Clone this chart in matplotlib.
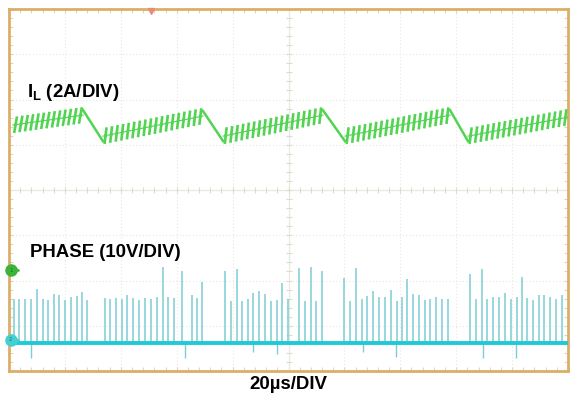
import numpy as np
import matplotlib
matplotlib.use('Agg')
import matplotlib.pyplot as plt
from matplotlib import patheffects

# screen: 10 x 8 divisions, 20 us/div
time_per_div = 20.0
il_scale = 2.0        # A/div
phase_scale = 10.0    # V/div
il_offset = -1.77     # ch1 ground, div
phase_offset = -3.38  # ch2 ground, div

# inductor current, rising ramps (start/end time in us, current in A)
il_rise_t0 = [1.4, 33.6, 76.6, 120.2, 164.2]
il_rise_t1 = [26.5, 69.4, 112.3, 157.8, 200.0]
il_rise_a0 = [6.41, 5.92, 5.92, 5.92, 5.92]
il_rise_a1 = [6.85, 6.81, 6.85, 6.85, 6.76]
il_ripple = 0.22      # half of ripple, A

# phase node pulses (time in us, peak in V)
pulse_t = [1.8, 3.7, 5.7, 7.8, 9.9, 12.1, 14.1, 16.1, 18.0, 20.0, 22.1, 24.2, 26.2, 28.0,
           34.3, 36.1, 38.3, 40.3, 42.3, 44.5, 46.6, 48.7, 50.7, 52.8, 55.0, 57.0, 59.0,
           61.8, 65.4, 67.3, 69.1,
           77.3, 79.3, 81.5, 83.5, 85.4, 87.4, 89.5, 91.6, 93.6, 95.8, 97.8, 99.7,
           103.9, 105.9, 107.9, 109.8, 112.0,
           119.9, 122.0, 124.2, 126.2, 128.2, 130.1, 132.5, 134.5, 136.6, 138.7, 140.5,
           142.5, 144.7, 146.7, 148.8, 150.6, 152.8, 154.8, 157.0,
           164.9, 167.1, 169.1, 171.1, 173.3, 175.3, 177.5, 179.5, 181.6, 183.7, 185.5,
           187.4, 189.6, 191.5, 193.6, 195.6, 197.8]
pulse_v = [9.8, 9.8, 9.8, 9.8, 12.0, 9.8, 9.4, 10.9, 10.7, 9.4, 10.2, 10.4, 11.3, 9.4,
           9.9, 9.8, 9.9, 9.8, 10.7, 9.9, 9.4, 9.9, 9.7, 10.2, 16.8, 10.2, 9.9,
           15.8, 10.5, 9.9, 13.5,
           15.8, 9.2, 16.4, 9.2, 9.8, 11.1, 11.4, 10.9, 9.2, 9.4, 13.3, 9.8,
           16.6, 9.2, 16.8, 9.2, 15.8,
           14.4, 9.2, 16.6, 9.8, 10.4, 11.4, 10.2, 10.2, 11.6, 9.2, 10.2,
           14.1, 10.8, 10.5, 9.4, 9.7, 10.2, 9.7, 9.7,
           15.3, 9.8, 16.3, 9.8, 10.2, 10.2, 11.0, 9.8, 10.2, 14.6, 9.9,
           9.4, 10.7, 10.7, 10.2, 9.8, 10.7]
spike_t = [7.8, 63.0, 87.3, 95.8, 126.7, 138.5, 169.5, 181.4]
spike_v = [-3.3, -3.3, -2.0, -2.5, -2.0, -3.0, -3.3, -3.3]
phase_start = 1.8
trigger_t = 50.7

fig = plt.figure(figsize=(5.72, 3.96), dpi=100)
ax = fig.add_axes([9 / 572, 25 / 396, 559 / 572, 362 / 396])
ax.set_xlim(0, 10 * time_per_div)
ax.set_ylim(-4, 4)

grid_c = '#e8e8e0'
ax.set_xticks(np.arange(0, 201, time_per_div))
ax.set_yticks(np.arange(-4, 5, 1))
ax.set_xticks(np.arange(0, 201, time_per_div / 5), minor=True)
ax.set_yticks(np.arange(-4, 4.01, 0.2), minor=True)
ax.tick_params(which='both', direction='in', top=True, right=True,
               labelbottom=False, labelleft=False, color='#ddd6c0',
               length=3, width=0.8)
ax.grid(which='major', color=grid_c, ls=(0, (1, 2)), lw=0.8)
for s in ax.spines.values():
    s.set_color('#dcae68')
    s.set_linewidth(2)

# center axes with small ticks
ax.axhline(0, color=grid_c, lw=0.8)
ax.axvline(100, color=grid_c, lw=0.8)
minor_x = np.arange(0, 201, time_per_div / 5)
minor_y = np.arange(-4, 4.01, 0.2)
ax.plot(minor_x, np.zeros_like(minor_x), '|', color='#dcdccc', ms=5, mew=0.8)
ax.plot(np.full_like(minor_y, 100), minor_y, '_', color='#dcdccc', ms=5, mew=0.8)

# inductor current
green = '#52d452'
ticked = [patheffects.Stroke(linewidth=0.8),
          patheffects.TickedStroke(spacing=3.9, angle=72, length=1.3, linewidth=1.9),
          patheffects.TickedStroke(spacing=3.9, angle=-108, length=1.3, linewidth=1.9)]
for i in range(len(il_rise_t0)):
    t = [il_rise_t0[i], il_rise_t1[i]]
    a = np.array([il_rise_a0[i], il_rise_a1[i]]) / il_scale + il_offset
    ax.plot(t, a, color=green, lw=1.5, path_effects=ticked, zorder=4)
    if i + 1 < len(il_rise_t0):
        td = [il_rise_t1[i], il_rise_t0[i + 1]]
        ad = np.array([il_rise_a1[i] + il_ripple, il_rise_a0[i + 1] - il_ripple])
        ax.plot(td, ad / il_scale + il_offset, color=green, lw=1.8, zorder=4)

# phase node
cyan = '#1ccbd6'
ptop = np.array(pulse_v) / phase_scale + phase_offset
ax.vlines(pulse_t, phase_offset, ptop, color='#7ccdd5', lw=1.1, zorder=2)
ax.vlines(spike_t, phase_offset, np.array(spike_v) / phase_scale + phase_offset,
          color='#7ccdd5', lw=1.0, zorder=2)
ax.plot([phase_start, 200], [phase_offset, phase_offset], color=cyan, lw=2.8, zorder=3)

# ground and trigger markers
ax.plot(0.6, il_offset, marker='o', ms=8, color='#3cb43c', clip_on=False, zorder=6)
ax.plot(2.6, il_offset, marker='>', ms=4, color='#3cb43c', clip_on=False, zorder=6)
ax.plot(0.6, phase_offset + 0.07, marker='o', ms=8, color='#44d0d0', clip_on=False, zorder=6)
ax.plot(2.6, phase_offset + 0.07, marker='>', ms=4, color='#44d0d0', clip_on=False, zorder=6)
ax.text(0.6, il_offset, '1', fontsize=4, color='#1d6e1d', ha='center', va='center',
        zorder=7, clip_on=False)
ax.text(0.6, phase_offset + 0.07, '2', fontsize=4, color='#1d7070', ha='center',
        va='center', zorder=7, clip_on=False)
ax.plot(trigger_t, 3.95, marker='v', ms=4, color='#e88a78', clip_on=False, zorder=6)

plt.rcParams['mathtext.fontset'] = 'custom'
plt.rcParams['mathtext.bf'] = 'Liberation Sans:bold'
plt.rcParams['mathtext.rm'] = 'Liberation Sans:bold'
font = dict(family='Liberation Sans', weight='bold', fontsize=13.4, color='black')
fig.text(27 / 572, 1 - 97 / 396, r'$\mathbf{I_L}$ (2A/DIV)', va='baseline', **font)
fig.text(30 / 572, 1 - 257 / 396, 'PHASE (10V/DIV)', va='baseline', **font)
fig.text(288 / 572, 1 - 389 / 396, '20µs/DIV', va='baseline', ha='center', **font)

fig.savefig('out.png', dpi=100)
